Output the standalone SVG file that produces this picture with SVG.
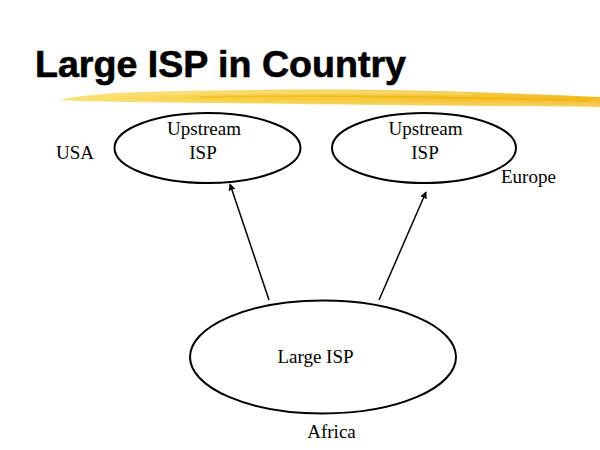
<svg xmlns="http://www.w3.org/2000/svg" width="600" height="450" viewBox="0 0 600 450">
  <style>
    .title { font-family: "Liberation Sans", Arial, sans-serif; font-weight: bold; font-size: 36px; fill: #000; stroke: #000; stroke-width: 0.6; }
    .lbl { font-family: "Liberation Serif", "Times New Roman", serif; font-size: 19px; fill: #000; }
    .node { fill: #fff; stroke: #000; stroke-width: 2; }
    .edge { stroke: #000; stroke-width: 1.5; fill: none; }
    .streak { fill: none; stroke-linecap: round; }
  </style>
  <defs>
    <marker id="arrow" viewBox="0 0 10 10" refX="9" refY="5" markerWidth="7" markerHeight="7" orient="auto" markerUnits="userSpaceOnUse">
      <path d="M0,0 L10,5 L0,10 Z" fill="#000"/>
    </marker>
    <linearGradient id="brush" x1="0" y1="0" x2="1" y2="0">
      <stop offset="0" stop-color="#FAE27A"/>
      <stop offset="0.3" stop-color="#F7CF3C"/>
      <stop offset="1" stop-color="#F2B818"/>
    </linearGradient>
    <linearGradient id="brushV" x1="0" y1="0" x2="0" y2="1">
      <stop offset="0" stop-color="#FFFFFF" stop-opacity="0.3"/>
      <stop offset="0.5" stop-color="#FFFFFF" stop-opacity="0"/>
      <stop offset="1" stop-color="#FFFFFF" stop-opacity="0.35"/>
    </linearGradient>
  </defs>
  <rect width="600" height="450" fill="#fff"/>

  <g id="title">
    <text class="title" x="35" y="77" textLength="371" lengthAdjust="spacingAndGlyphs">Large ISP in Country</text>
    <path d="M58,100 C80,96 100,93 140,92 C220,90 300,89 380,90 C460,91 530,94 600,97 L600,107 C530,106 460,106 380,105 C300,104 200,103 120,102 C95,101.5 75,101 58,100 Z" fill="url(#brush)"/>
    <path d="M58,100 C80,96 100,93 140,92 C220,90 300,89 380,90 C460,91 530,94 600,97 L600,107 C530,106 460,106 380,105 C300,104 200,103 120,102 C95,101.5 75,101 58,100 Z" fill="url(#brushV)"/>
    <path class="streak" d="M200,97 C300,95 420,96 590,101" stroke="#EFB010" stroke-width="1.5" stroke-opacity="0.6"/>
    <path class="streak" d="M150,94 C260,92 360,92 470,94" stroke="#FBE38A" stroke-width="1" stroke-opacity="0.7"/>
  </g>

  <g id="connectors">
    <line class="edge" x1="269" y1="300" x2="230" y2="184" marker-end="url(#arrow)"/>
    <line class="edge" x1="379" y1="300" x2="426" y2="192" marker-end="url(#arrow)"/>
  </g>

  <g id="usa-isp">
    <ellipse class="node" cx="207.5" cy="148" rx="93" ry="35"/>
    <text class="lbl" x="204" y="135" text-anchor="middle">Upstream</text>
    <text class="lbl" x="203" y="159" text-anchor="middle">ISP</text>
  </g>
  <text id="usa-label" class="lbl" x="56" y="159">USA</text>

  <g id="europe-isp">
    <ellipse class="node" cx="424" cy="148" rx="92" ry="35"/>
    <text class="lbl" x="425.5" y="135" text-anchor="middle">Upstream</text>
    <text class="lbl" x="425" y="159" text-anchor="middle">ISP</text>
  </g>
  <text id="europe-label" class="lbl" x="501" y="183">Europe</text>

  <g id="large-isp">
    <ellipse class="node" cx="323" cy="357" rx="133" ry="56.5"/>
    <text class="lbl" x="315.5" y="363" text-anchor="middle">Large ISP</text>
  </g>
  <text id="africa-label" class="lbl" x="331.5" y="438" text-anchor="middle">Africa</text>
</svg>
